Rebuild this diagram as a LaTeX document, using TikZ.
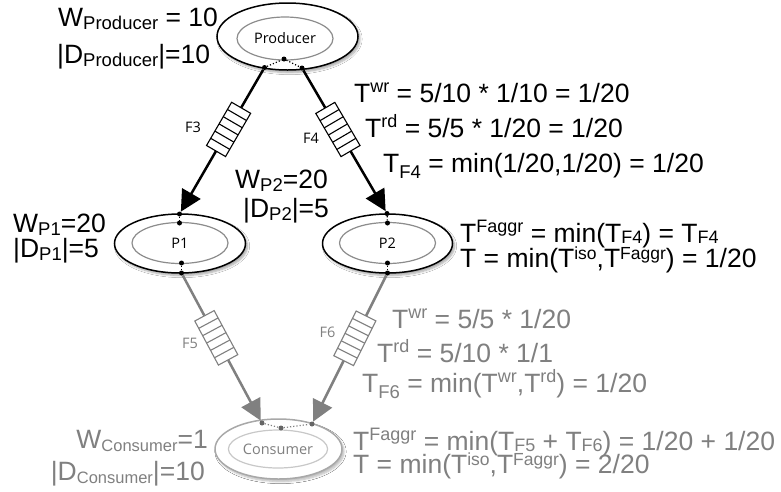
\documentclass[tikz,border=0pt]{standalone}
\usepackage{fontspec}
\setmainfont{Liberation Sans}
\newfontfamily\osans{Open Sans}
\usetikzlibrary{shapes.geometric,arrows.meta,shadows.blur}
\definecolor{fgray}{RGB}{128,128,128}
\definecolor{igray}{RGB}{140,140,140}
\definecolor{lgray}{RGB}{168,168,168}
\definecolor{llgray}{RGB}{200,200,200}
\newcommand\Up[1]{\raisebox{9.5pt}{\fontsize{18}{18}\selectfont #1}}
\newcommand\Ul[1]{\raisebox{7.5pt}{\fontsize{17.5}{17.5}\selectfont #1}}
\newcommand\Dn[1]{\raisebox{-6pt}{\fontsize{18.5}{18.5}\selectfont #1}}
\newcommand\Ds[1]{\raisebox{-1pt}{\fontsize{18}{18}\selectfont #1}}
\newcommand\Dw[1]{\raisebox{-3pt}{\fontsize{18.5}{18.5}\selectfont #1}}
\newcommand\Dc[1]{\raisebox{-3pt}{\fontsize{16.5}{16.5}\selectfont #1}}
\tikzset{
  txt/.style={anchor=base west, inner sep=0pt, font=\fontsize{26.5}{30}\selectfont},
  gtxt/.style={txt, text=fgray},
  outerell/.style={ellipse, draw, line width=1.5pt, fill=white, inner sep=0pt,
    blur shadow={shadow xshift=2pt, shadow yshift=-2.5pt, shadow blur steps=6, shadow opacity=35}},
  innerell/.style={ellipse, draw=igray, line width=1.2pt, inner sep=0pt,
    font=\osans\fontsize{14.5}{16}\selectfont},
  dotnode/.style={circle, fill, inner sep=0pt, minimum size=5pt},
  flow/.style={line width=2.5pt, -{Triangle[length=21pt,width=21pt]}},
  qlabel/.style={font=\osans\fontsize{14.5}{16}\selectfont, inner sep=0pt},
  queue/.pic={
    \draw[line width=1.1pt, fill=white] (-25,-11) rectangle (25,11);
    \foreach \i in {1,...,5} \draw[line width=1.1pt] ({-25+\i*50/6},-11) -- ({-25+\i*50/6},11);
  }
}
\begin{document}
\begin{tikzpicture}[x=1pt,y=-1pt]
\fill[white] (0,0) rectangle (781,491);
\useasboundingbox (0,0) rectangle (781,491);

% Producer
\node[outerell, minimum width=141pt, minimum height=67pt] (prodO) at (287.5,36.5) {};
\node[innerell, minimum width=96pt, minimum height=43pt] (prodI) at (285,38.5) {Producer};
\node[dotnode] (pd) at (284,59) {};
\node[dotnode] (pl) at (264.5,67.5) {};
\node[dotnode] (pr) at (302,68) {};
\draw[dotted, line width=1.2pt] (pl) -- (pd) -- (pr);

% P1
\node[outerell, minimum width=131pt, minimum height=59pt] (p1O) at (180,243.5) {};
\node[innerell, minimum width=96pt, minimum height=41pt] (p1I) at (180,243) {P1};
\node[dotnode] (p1t) at (179.5,214) {};
\node[dotnode] (p1ti) at (179.5,223) {};
\node[dotnode] (p1bi) at (181.5,263) {};
\node[dotnode] (p1b) at (181.5,273) {};
\draw[dotted, line width=1.2pt] (p1t) -- (p1ti);
\draw[dotted, line width=1.2pt] (p1bi) -- (p1b);

% P2
\node[outerell, minimum width=130pt, minimum height=59pt] (p2O) at (387.5,243.5) {};
\node[innerell, minimum width=96pt, minimum height=41pt] (p2I) at (387.5,243) {P2};
\node[dotnode] (p2t) at (387,213.5) {};
\node[dotnode] (p2ti) at (387.5,223) {};
\node[dotnode] (p2bi) at (387.5,263) {};
\node[dotnode] (p2b) at (387.5,273) {};
\draw[dotted, line width=1.2pt] (p2t) -- (p2ti);
\draw[dotted, line width=1.2pt] (p2bi) -- (p2b);

% Consumer
\node[outerell, draw=lgray, minimum width=127pt, minimum height=60pt,
  blur shadow={shadow xshift=2pt, shadow yshift=-2.5pt, shadow blur steps=6, shadow opacity=15}] (conO) at (278.5,449) {};
\node[innerell, draw=llgray, text=fgray, minimum width=90pt, minimum height=38pt] (conI) at (278,449) {Consumer};
\node[dotnode, fill=fgray!80!black] (c1) at (262,423) {};
\node[dotnode, fill=fgray!80!black] (c2) at (281,428) {};
\node[dotnode, fill=fgray!80!black] (c3) at (312,424) {};
\draw[dotted, line width=1.2pt, fgray] (c1) -- (c2) -- (c3);

% flows
\draw[flow] (pl) -- (p1t);
\draw[flow] (pr) -- (p2t);
\draw[flow, fgray] (p1b) -- (c1);
\draw[flow, fgray] (p2b) -- (c3);
\path (pl) -- pic[pos=0.42, sloped]{queue} (p1t);
\path (pr) -- pic[pos=0.42, sloped]{queue} (p2t);
\path (p1b) -- pic[pos=0.43, sloped, color=fgray]{queue} (c1);
\path (p2b) -- pic[pos=0.43, sloped, color=fgray]{queue} (c3);
\node[qlabel] (lf3) at (193,127) {F3};
\node[qlabel] (lf4) at (311,138) {F4};
\node[qlabel, text=fgray] (lf5) at (190,343.5) {F5};
\node[qlabel, text=fgray] (lf6) at (327.5,332.5) {F6};

% texts
\node[txt] (wprod) at (58,26) {W\Dw{Producer} = 10};
\node[txt] (dprod) at (57,63) {|D\Dw{Producer}|=10};
\node[txt] (twr4) at (354,102) {T\Up{wr} = 5/10 * 1/10 = 1/20};
\node[txt] (trd4) at (365,137) {T\Up{rd} = 5/5 * 1/20 = 1/20};
\node[txt] (tf4) at (383,172) {T\Dn{F4} = min(1/20,1/20) = 1/20};
\node[txt] (tagg2) at (460,242) {T\Up{Faggr} = min(T\Ds{F4}) = T\Ds{F4}};
\node[txt] (tp2) at (460,267) {T = min(T\Ul{iso},T\Ul{Faggr}) = 1/20};
\node[txt] (wp1) at (13,232) {W\Dw{P1}=20};
\node[txt] (dp1) at (13,257) {|D\Dw{P1}|=5};
\node[txt] (wp2) at (235,188) {W\Dw{P2}=20};
\node[txt] (dp2) at (243,217) {|D\Dw{P2}|=5};
\node[gtxt] (twr6) at (392,328) {T\Up{wr} = 5/5 * 1/20};
\node[gtxt] (trd6) at (377,362) {T\Up{rd} = 5/10 * 1/1};
\node[gtxt] (tf6) at (362,392) {T\Dn{F6} = min(T\Up{wr},T\Up{rd}) = 1/20};
\node[gtxt] (taggc) at (353,450) {T\Up{Faggr} = min(T\Ds{F5} + T\Ds{F6}) = 1/20 + 1/20};
\node[gtxt] (tc) at (353,473) {T = min(T\Ul{iso},T\Ul{Faggr}) = 2/20};
\node[gtxt, anchor=base east] (wcon) at (208,448) {W\Dc{Consumer}=1};
\node[gtxt, anchor=base east] (dcon) at (205,480) {|D\Dc{Consumer}|=10};
\end{tikzpicture}
\end{document}
